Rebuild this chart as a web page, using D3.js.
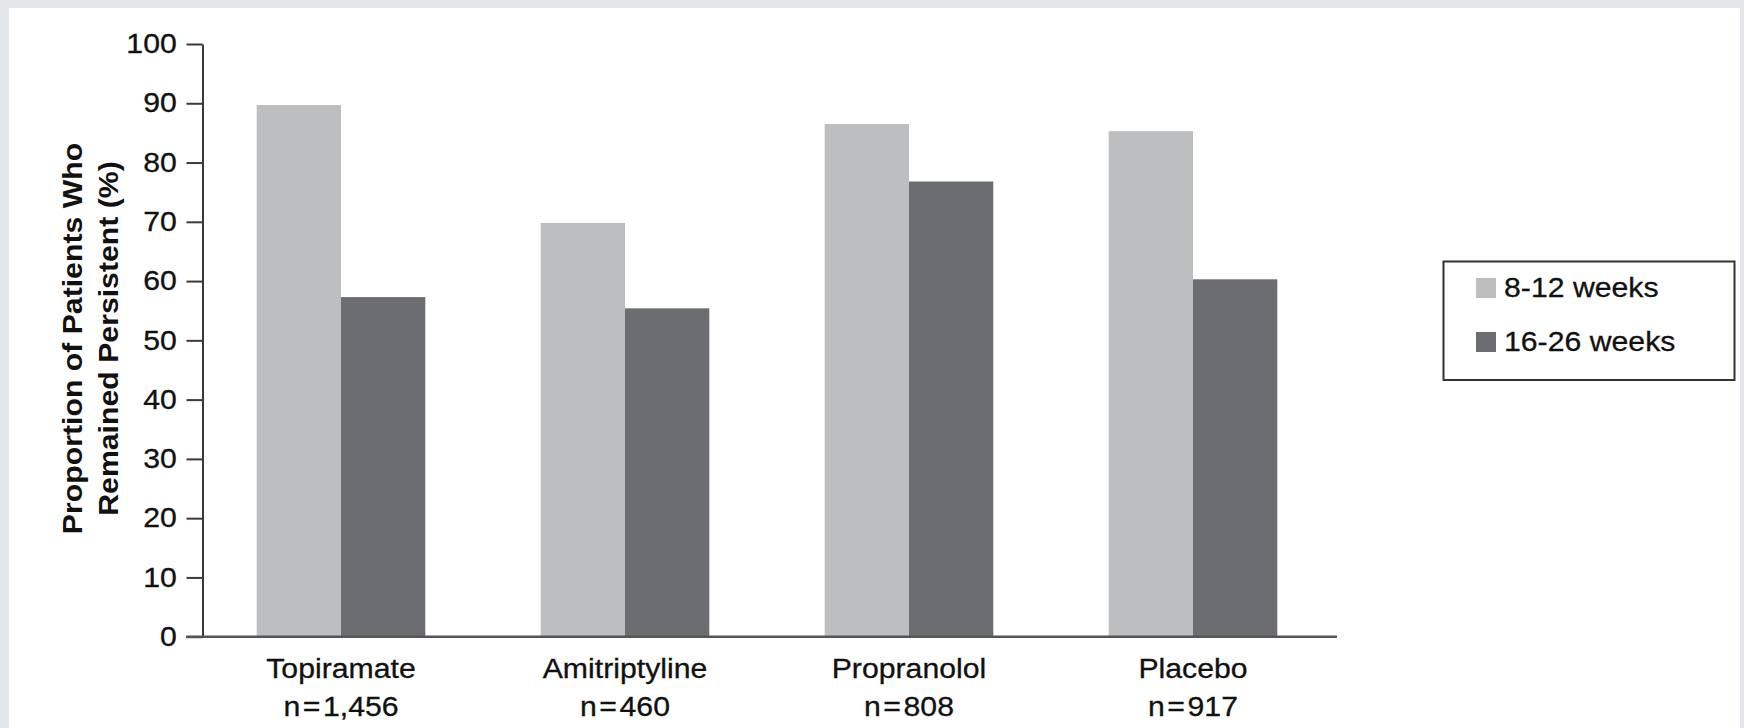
<!DOCTYPE html>
<html>
<head>
<meta charset="utf-8">
<script src="https://cdn.jsdelivr.net/npm/d3@7"></script>
<style>
  html, body { margin: 0; padding: 0; background: #e4e7ea; }
  svg { display: block; }
  text { font-family: "Liberation Sans", Arial, Helvetica, sans-serif; fill: #111; }
</style>
</head>
<body>
<svg id="chart" width="1744" height="728"></svg>
<script>
// ---- data ----
const categories = ["Topiramate", "Amitriptyline", "Propranolol", "Placebo"];
const sampleSizes = ["n\u200A=\u200A1,456", "n\u200A=\u200A460", "n\u200A=\u200A808", "n\u200A=\u200A917"];
const seriesNames = ["8-12 weeks", "16-26 weeks"];
const weeks8to12 = [89.7, 69.8, 86.5, 85.3];
const weeks16to26 = [57.3, 55.4, 76.8, 60.3];
const yTicks = [0, 10, 20, 30, 40, 50, 60, 70, 80, 90, 100];
const seriesColors = ["#bdbec0", "#6c6d71"];
const yTitleLines = ["Proportion of Patients Who", "Remained Persistent (%)"];

const seriesValues = [weeks8to12, weeks16to26];
const rows = categories.map((c, i) => ({
  category: c,
  values: seriesNames.map((s, j) => ({ series: s, value: seriesValues[j][i], idx: j }))
}));

const svg = d3.select("#chart");
const W = 1744, H = 728;
const SX = 1.12; // horizontal glyph stretch seen in the reference

// background panel
svg.append("rect").attr("x", 0).attr("y", 0).attr("width", W).attr("height", H).attr("fill", "#e4e7ea");
svg.append("rect").attr("x", 9).attr("y", 8).attr("width", W - 13).attr("height", H - 8).attr("fill", "#ffffff");

// scales
const y = d3.scaleLinear().domain([0, 100]).range([636.7, 44]);
const x = d3.scaleBand().domain(categories).range([199, 1335]).paddingInner(0).paddingOuter(0);
const barW = 84.3;
const xInner = d3.scaleBand().domain(seriesNames)
  .range([x.bandwidth() / 2 - barW, x.bandwidth() / 2 + barW]).padding(0);
const color = d3.scaleOrdinal().domain(seriesNames).range(seriesColors);

// bars
const groups = svg.append("g").selectAll("g").data(rows).join("g")
  .attr("transform", d => `translate(${x(d.category)},0)`);
groups.selectAll("rect").data(d => d.values).join("rect")
  .attr("x", d => xInner(d.series))
  .attr("width", xInner.bandwidth())
  .attr("y", d => y(d.value))
  .attr("height", d => y(0) - y(d.value))
  .attr("fill", d => color(d.series));

// y axis
const yAxis = d3.axisLeft(y).tickValues(yTicks).tickSize(16).tickSizeOuter(0).tickPadding(7)
  .tickFormat(d3.format("d"));
const gy = svg.append("g").attr("transform", "translate(202.5,0)").call(yAxis);
gy.select(".domain").attr("stroke", "#3a3a3a").attr("stroke-width", 2);
gy.selectAll(".tick line").attr("stroke", "#3a3a3a").attr("stroke-width", 2);
gy.selectAll(".tick text").attr("font-size", 27).attr("fill", "#111")
  .attr("stroke", "#111").attr("stroke-width", 0.3)
  .attr("transform", `scale(${SX},1)`)
  .style("font-family", "'Liberation Sans', Arial, sans-serif");

// baseline
svg.append("line")
  .attr("x1", 186).attr("x2", 1337)
  .attr("y1", y(0)).attr("y2", y(0))
  .attr("stroke", "#555").attr("stroke-width", 2.5);

// x axis labels
const xAxis = d3.axisBottom(x).tickSize(0).tickFormat(() => "");
const gx = svg.append("g").attr("transform", `translate(0,${y(0)})`).call(xAxis);
gx.select(".domain").remove();
gx.selectAll(".tick").each(function(d, i) {
  const t = d3.select(this).append("g").attr("transform", `scale(${SX},1)`);
  t.append("text").attr("y", 41).attr("text-anchor", "middle").attr("font-size", 27).attr("fill", "#111")
    .attr("stroke", "#111").attr("stroke-width", 0.3)
    .text(categories[i]);
  t.append("text").attr("y", 79).attr("text-anchor", "middle").attr("font-size", 27).attr("fill", "#111")
    .attr("stroke", "#111").attr("stroke-width", 0.3)
    .text(sampleSizes[i]);
});

// y title
const yt = svg.append("g").attr("transform", `translate(0,338.5) rotate(-90) scale(${SX},1)`);
yt.selectAll("text").data(yTitleLines).join("text")
  .attr("x", 0)
  .attr("y", (d, i) => [82, 118][i])
  .attr("text-anchor", "middle")
  .attr("font-size", 27)
  .attr("font-weight", "bold")
  .attr("fill", "#111")
  .text(d => d);

// legend
const lg = svg.append("g");
lg.append("rect").attr("x", 1443.5).attr("y", 261.5).attr("width", 291).attr("height", 118.5)
  .attr("fill", "#fff").attr("stroke", "#333").attr("stroke-width", 2);
const items = lg.selectAll("g.item").data(seriesNames).join("g").attr("class", "item")
  .attr("transform", (d, i) => `translate(1476,${278 + i * 54})`);
items.append("rect").attr("width", 20).attr("height", 20).attr("fill", d => color(d));
items.append("g").attr("transform", `translate(28,0) scale(${SX},1)`)
  .append("text").attr("x", 0).attr("y", 19).attr("font-size", 27).attr("fill", "#111")
  .attr("stroke", "#111").attr("stroke-width", 0.3)
  .text(d => d);
</script>
</body>
</html>
